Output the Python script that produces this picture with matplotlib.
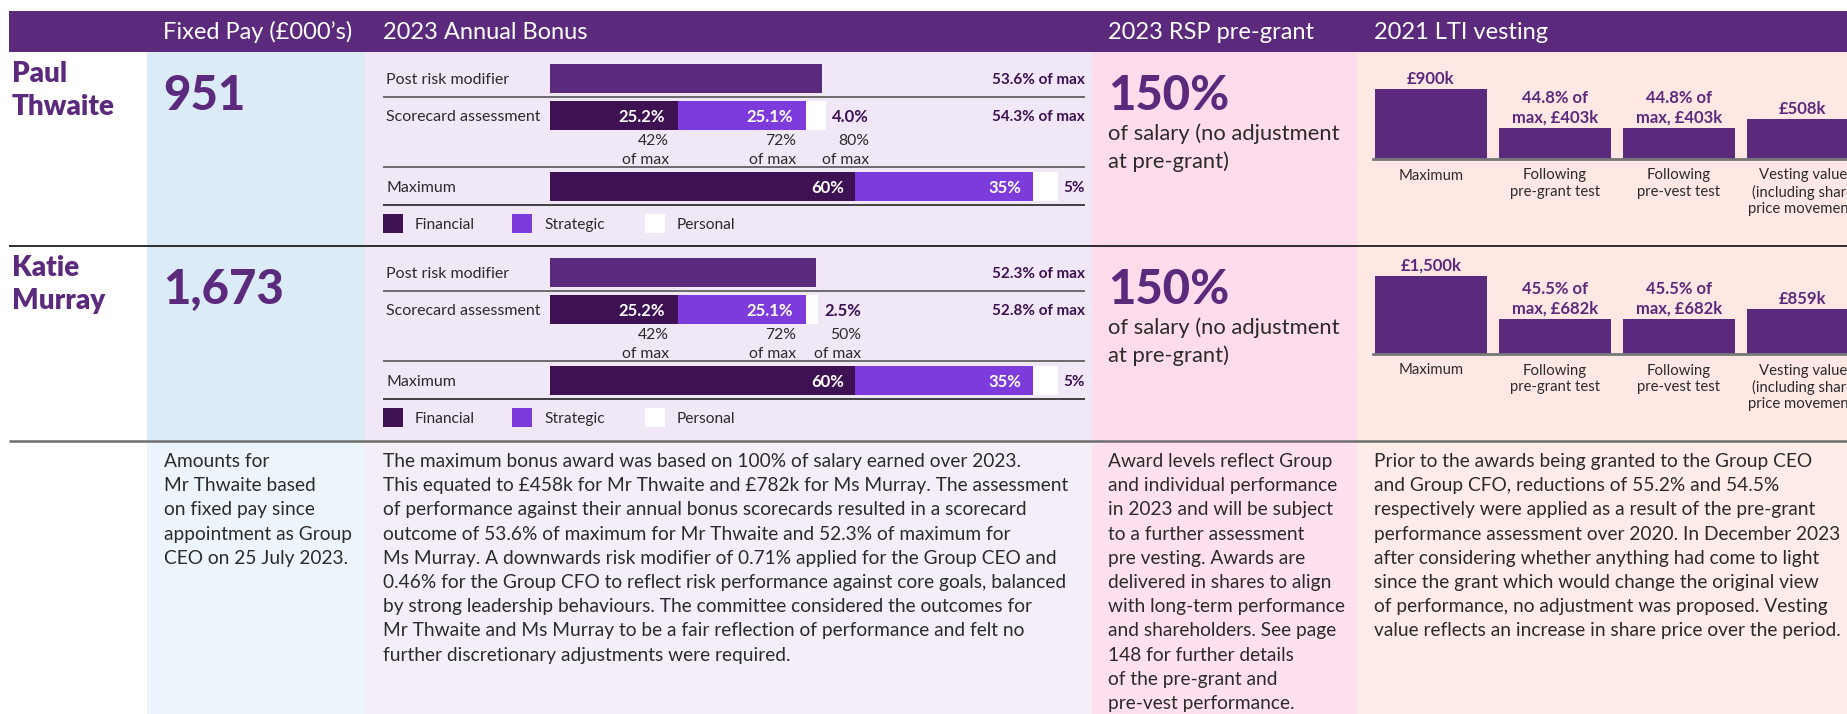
import matplotlib
matplotlib.use("Agg")
import matplotlib.pyplot as plt
from matplotlib.patches import Rectangle

W, H = 1847, 714
DPI = 100

plt.rcParams["font.family"] = ["Lato", "DejaVu Sans"]

PURPLE = "#5B2A7C"
DARK = "#3D1152"
VIOLET = "#7E3BDB"
INK = "#2B2B2B"
RULE = "#555555"

# ---------------------------------------------------------------------------
# Data
# ---------------------------------------------------------------------------
headers = ["Fixed Pay (£000’s)", "2023 Annual Bonus", "2023 RSP pre-grant", "2021 LTI vesting"]
names = [["Paul", "Thwaite"], ["Katie", "Murray"]]
fixed_pay = [951, 1673]

bonus_rows = ["Post risk modifier", "Scorecard assessment", "Maximum"]
bonus_parts = ["Financial", "Strategic", "Personal"]
bonus_max = [60, 35, 5]
post_risk = [53.6, 52.3]
scorecard = [[25.2, 25.1, 4.0], [25.2, 25.1, 2.5]]
scorecard_of_max = [[42, 72, 80], [42, 72, 50]]

rsp_pct = [150, 150]
rsp_note = ["of salary (no adjustment", "at pre-grant)"]

lti_stages = [["Maximum"], ["Following", "pre-grant test"], ["Following", "pre-vest test"],
              ["Vesting value", "(including share", "price movement)"]]
lti_values = [[900, 403, 403, 508], [1500, 682, 682, 859]]
lti_pct_of_max = [44.8, 45.5]

notes_fixed = ["Amounts for", "Mr Thwaite based", "on fixed pay since",
               "appointment as Group", "CEO on 25 July 2023."]
notes_bonus = [
    "The maximum bonus award was based on 100% of salary earned over 2023.",
    "This equated to £458k for Mr Thwaite and £782k for Ms Murray. The assessment",
    "of performance against their annual bonus scorecards resulted in a scorecard",
    "outcome of 53.6% of maximum for Mr Thwaite and 52.3% of maximum for",
    "Ms Murray. A downwards risk modifier of 0.71% applied for the Group CEO and",
    "0.46% for the Group CFO to reflect risk performance against core goals, balanced",
    "by strong leadership behaviours. The committee considered the outcomes for",
    "Mr Thwaite and Ms Murray to be a fair reflection of performance and felt no",
    "further discretionary adjustments were required.",
]
notes_rsp = ["Award levels reflect Group", "and individual performance",
             "in 2023 and will be subject", "to a further assessment",
             "pre vesting. Awards are", "delivered in shares to align",
             "with long-term performance", "and shareholders. See page",
             "148 for further details", "of the pre-grant and",
             "pre-vest performance."]
notes_lti = [
    "Prior to the awards being granted to the Group CEO",
    "and Group CFO, reductions of 55.2% and 54.5%",
    "respectively were applied as a result of the pre-grant",
    "performance assessment over 2020. In December 2023",
    "after considering whether anything had come to light",
    "since the grant which would change the original view",
    "of performance, no adjustment was proposed. Vesting",
    "value reflects an increase in share price over the period.",
]

# ---------------------------------------------------------------------------
# Layout helpers (pixel space, origin top-left)
# ---------------------------------------------------------------------------
fig = plt.figure(figsize=(W / DPI, H / DPI), dpi=DPI)
bg = fig.add_axes([0, 0, 1, 1])
bg.set_xlim(0, W)
bg.set_ylim(H, 0)
bg.axis("off")


def pt(px):
    return px * 72 / DPI


def px_axes(x0, y0, x1, y1):
    ax = fig.add_axes([x0 / W, 1 - y1 / H, (x1 - x0) / W, (y1 - y0) / H])
    ax.patch.set_alpha(0)
    return ax


def hline(x0, x1, y, color=RULE, lw=1.2):
    bg.plot([x0, x1], [y, y], color=color, lw=lw, solid_capstyle="butt")


def text_block(x, y, lines, step, **kw):
    for k, line in enumerate(lines):
        bg.text(x, y + k * step, line, **kw)


# column backgrounds: (left, right, chart colour, notes colour)
columns = [(147, 365, "#DCEBF8", "#EDF5FC"),
           (365, 1092, "#F1E8F7", "#F4EEF9"),
           (1092, 1357, "#FFDCEB", "#FFE0EE"),
           (1357, W, "#FFE8E4", "#FFEBE8")]
for x0, x1, top_c, low_c in columns:
    bg.add_patch(Rectangle((x0, 52), x1 - x0, 441 - 52, color=top_c, lw=0))
    bg.add_patch(Rectangle((x0, 441), x1 - x0, H - 441, color=low_c, lw=0))

# header band
bg.add_patch(Rectangle((9, 11), W - 9, 41, color=PURPLE, lw=0))
for x, label in zip([163, 383, 1108, 1374], headers):
    bg.text(x, 39, label, color="white", fontsize=17, va="baseline")

hline(9, W, 246, color="#1E1E1E", lw=1.3)
hline(9, W, 441, color="#6E6E6E", lw=1.8)

ROW_DY = 194
LTI_TOP = [89, 276]
LTI_BASE = [159, 354]

for i in range(2):
    dy = i * ROW_DY

    # name and fixed pay
    text_block(12, 82 + dy, names[i], 33, color=PURPLE, fontsize=20,
               fontweight="heavy", va="baseline")
    bg.text(163, 110 + dy, f"{fixed_pay[i]:,}", color=PURPLE, fontsize=34,
            fontweight="black", va="baseline")

    # --- annual bonus -----------------------------------------------------
    row_y = [(64, 93), (101, 130), (172, 201)]
    bar_axes = []
    for (y0, y1), label in zip(row_y, bonus_rows):
        ax = px_axes(550, y0 + dy, 1058, y1 + dy)
        ax.set_xlim(0, 100)
        ax.set_ylim(-0.5, 0.5)
        ax.axis("off")
        bar_axes.append(ax)
        bg.text(386, (y0 + y1) / 2 + dy, label, color=INK, fontsize=11.5,
                va="center_baseline")

    ax_post, ax_score, ax_max = bar_axes
    ax_post.barh(0, post_risk[i], height=1.0, color=PURPLE)

    colors = [DARK, VIOLET, "white"]
    left = 0
    for k, v in enumerate(scorecard[i]):
        ax_score.barh(0, v, left=left, height=1.0, color=colors[k])
        left += v
        if k < 2:
            ax_score.annotate(f"{v:.1f}%", (left, 0), xytext=(-pt(13), 0),
                              textcoords="offset points", ha="right",
                              va="center_baseline", color="white",
                              fontsize=12, fontweight="bold")
            sub_x, sub_ha = -pt(9), "right"
        else:
            ax_score.annotate(f"{v:.1f}%", (left, 0), xytext=(pt(6), 0),
                              textcoords="offset points", ha="left",
                              va="center_baseline", color=DARK,
                              fontsize=12, fontweight="bold")
            sub_x, sub_ha = pt(43), "right"
        for j, sub in enumerate([f"{scorecard_of_max[i][k]}%", "of max"]):
            ax_score.annotate(sub, (left, 0), xytext=(sub_x, -pt(24 + 19 * j)),
                              textcoords="offset points", ha=sub_ha,
                              va="center_baseline", color=INK, fontsize=11.3)

    left = 0
    for k, v in enumerate(bonus_max):
        ax_max.barh(0, v, left=left, height=1.0, color=colors[k])
        left += v
        if k < 2:
            ax_max.annotate(f"{v}%", (left, 0), xytext=(-pt(11), 0),
                            textcoords="offset points", ha="right",
                            va="center_baseline", color="white",
                            fontsize=12, fontweight="bold")

    right_labels = [f"{post_risk[i]:.1f}% of max",
                    f"{sum(scorecard[i]):.1f}% of max",
                    f"{bonus_max[2]}%"]
    for (y0, y1), label in zip(row_y, right_labels):
        bg.text(1085, (y0 + y1) / 2 + dy, label, color=DARK, fontsize=11,
                fontweight="bold", ha="right", va="center_baseline")

    hline(383, 1085, 97 + dy)
    hline(383, 1085, 167 + dy)
    hline(383, 1085, 205 + dy, color="#222222")

    for x, c, label in zip([383, 512, 645], colors, bonus_parts):
        bg.add_patch(Rectangle((x, 214 + dy), 20, 19, color=c, lw=0))
        bg.text(x + 32, 223.5 + dy, label, color=INK, fontsize=11.2,
                va="center_baseline")

    # --- RSP pre-grant ----------------------------------------------------
    bg.text(1108, 110 + dy, f"{rsp_pct[i]}%", color=PURPLE, fontsize=34,
            fontweight="black", va="baseline")
    text_block(1108, 140 + dy, rsp_note, 28, color=INK, fontsize=15.8,
               va="baseline")

    # --- LTI vesting ------------------------------------------------------
    vals = lti_values[i]
    ax = px_axes(1373, LTI_TOP[i], 1373 + 520, LTI_BASE[i])
    xs = range(len(vals))
    ax.bar(xs, vals, width=0.9, color=PURPLE)
    ax.set_xlim(-0.45 - 2 / 124, -0.45 - 2 / 124 + 520 / 124)
    ax.set_ylim(0, vals[0])
    for s in ["top", "right", "left"]:
        ax.spines[s].set_visible(False)
    ax.spines["bottom"].set_color("#777777")
    ax.spines["bottom"].set_linewidth(2)
    ax.set_xticks([])
    ax.set_yticks([])

    value_labels = [[f"£{vals[0]:,}k"],
                    [f"{lti_pct_of_max[i]}% of", f"max, £{vals[1]}k"],
                    [f"{lti_pct_of_max[i]}% of", f"max, £{vals[2]}k"],
                    [f"£{vals[3]}k"]]
    for x, v, lines, stage in zip(xs, vals, value_labels, lti_stages):
        for k, line in enumerate(reversed(lines)):
            ax.annotate(line, (x, v), xytext=(0, pt(12 + 19 * k)),
                        textcoords="offset points", ha="center",
                        va="center_baseline", color=PURPLE, fontsize=12,
                        fontweight="bold", annotation_clip=False)
        for k, line in enumerate(stage):
            ax.annotate(line, (x, 0), xytext=(0, -pt(15 + 16.5 * k)),
                        textcoords="offset points", ha="center",
                        va="center_baseline", color=INK, fontsize=10.7,
                        annotation_clip=False)

# ---------------------------------------------------------------------------
# Notes row
# ---------------------------------------------------------------------------
note_kw = dict(color=INK, fontsize=13.8, va="baseline")
text_block(164, 467, notes_fixed, 24.2, **note_kw)
text_block(383, 467, notes_bonus, 24.2, **note_kw)
text_block(1108, 467, notes_rsp, 24.2, **note_kw)
text_block(1374, 467, notes_lti, 24.2, **note_kw)

fig.savefig("out.png", dpi=DPI)
